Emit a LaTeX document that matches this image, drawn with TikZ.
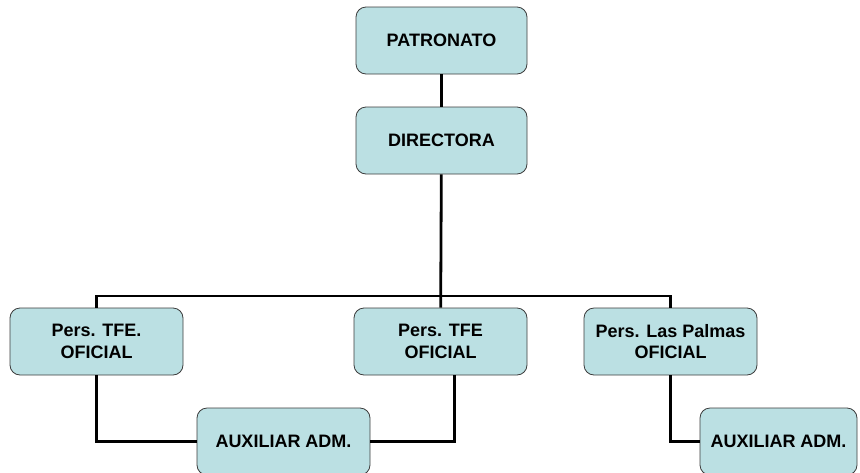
\documentclass[tikz,border=0pt]{standalone}
\usepackage{fontspec}
\setmainfont{Liberation Sans}
\usepackage{tikz}
\usetikzlibrary{positioning}
\definecolor{boxfill}{RGB}{187,224,227}
\definecolor{boxline}{RGB}{60,60,60}
\tikzset{
    orgbox/.style={draw=boxline, line width=0.8pt, fill=boxfill,
      rounded corners=10pt, minimum width=173pt, minimum height=67pt,
      inner sep=0pt, align=center,
      font=\fontsize{18}{21.5}\selectfont\bfseries},
    link/.style={line width=2.8pt, black},
}

\begin{document}
\begin{tikzpicture}[x=1pt, y=-1pt]
        \useasboundingbox (0,0) rectangle (860,472);
        \coordinate (bus) at (441,296);
        \node[orgbox, minimum width=171pt] (pat) at (441.5,40.5) {PATRONATO};
        \node[orgbox, minimum width=171pt] (dir) at (441.5,140.5) {DIRECTORA};
        \node[orgbox] (tfe) at (96.5,341.5) {Pers. TFE.\\OFICIAL};
        \node[orgbox] (mid) at (440.5,341.5) {Pers. TFE\\OFICIAL};
        \node[orgbox] (lp) at (670.5,341.5) {Pers. Las Palmas\\OFICIAL};
        \node[orgbox] (aux1) at (283.5,441.5) {AUXILIAR ADM.};
        \node[orgbox, minimum width=157pt] (aux2) at (778.5,441.5) {AUXILIAR ADM.};
        % links
        \draw[link] (pat) -- (dir);
        \draw[link] (dir) -- (mid);
        \draw[link] (tfe.north) |- (bus) -| (lp.north);
        \draw[link] (tfe.south) |- (aux1.west);
        \draw[link] ([xshift=14pt]mid.south) |- (aux1.east);
        \draw[link] (lp.south) |- (aux2.west);
\end{tikzpicture}
\end{document}
